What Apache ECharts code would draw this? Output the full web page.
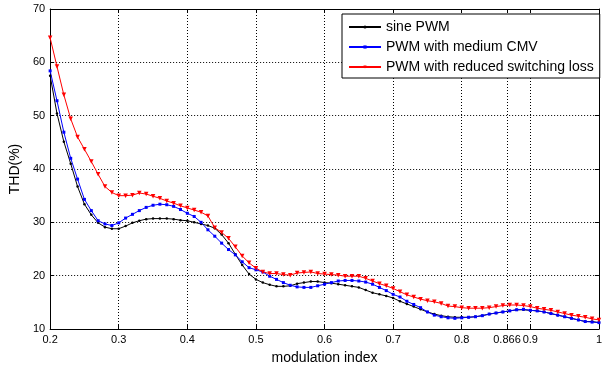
<!DOCTYPE html>
<html>
<head>
<meta charset="utf-8">
<script src="https://cdn.jsdelivr.net/npm/echarts@6/dist/echarts.min.js"></script>
<style>
html,body{margin:0;padding:0;background:#fff;}
#chart{width:605px;height:370px;}
</style>
</head>
<body>
<div id="chart"></div>
<script>
var modIndex = [0.20,0.21,0.22,0.23,0.24,0.25,0.26,0.27,0.28,0.29,
  0.30,0.31,0.32,0.33,0.34,0.35,0.36,0.37,0.38,0.39,
  0.40,0.41,0.42,0.43,0.44,0.45,0.46,0.47,0.48,0.49,
  0.50,0.51,0.52,0.53,0.54,0.55,0.56,0.57,0.58,0.59,
  0.60,0.61,0.62,0.63,0.64,0.65,0.66,0.67,0.68,0.69,
  0.70,0.71,0.72,0.73,0.74,0.75,0.76,0.77,0.78,0.79,
  0.80,0.81,0.82,0.83,0.84,0.85,0.86,0.87,0.88,0.89,
  0.90,0.91,0.92,0.93,0.94,0.95,0.96,0.97,0.98,0.99,1.00];

var sinePWM = [57.5,50.4,45.1,41.0,36.7,33.4,31.4,29.9,29.1,28.8,
  28.8,29.3,29.9,30.3,30.6,30.7,30.7,30.7,30.6,30.4,
  30.3,30.0,29.7,29.4,28.9,27.7,26.1,24.0,22.0,20.3,
  19.3,18.7,18.3,18.0,18.0,18.1,18.5,18.7,18.9,18.9,
  18.7,18.6,18.4,18.2,18.0,17.8,17.3,16.8,16.5,16.2,
  15.8,15.2,14.7,14.2,13.7,13.2,12.8,12.5,12.3,12.2,
  12.2,12.2,12.3,12.5,12.8,13.0,13.2,13.4,13.6,13.6,
  13.5,13.4,13.2,12.9,12.6,12.3,12.0,11.7,11.4,11.4,11.2];

var mediumCMV = [58.4,52.8,46.9,42.0,38.1,34.3,32.2,30.3,29.7,29.4,
  29.9,30.8,31.5,32.2,32.8,33.2,33.4,33.3,33.0,32.4,
  31.7,31.1,30.0,28.6,27.4,26.1,24.9,23.9,22.6,21.5,
  21.1,20.7,19.9,19.3,18.7,18.2,17.9,17.8,17.8,18.1,
  18.4,18.7,19.0,19.1,19.1,19.0,18.8,18.4,17.8,17.2,
  16.5,16.0,15.2,14.6,14.0,13.2,12.6,12.3,12.1,12.0,
  12.1,12.2,12.3,12.5,12.8,13.0,13.2,13.4,13.6,13.7,
  13.5,13.4,13.2,12.9,12.6,12.3,12.0,11.7,11.4,11.3,11.2];

var reducedLoss = [64.6,59.2,53.9,49.4,46.0,43.7,41.4,39.0,36.7,35.6,
  35.0,35.0,35.1,35.5,35.3,34.9,34.5,34.0,33.6,33.1,
  32.7,32.3,31.9,31.2,29.0,28.1,27.0,25.4,23.7,22.4,
  21.4,20.7,20.4,20.4,20.2,20.1,20.5,20.6,20.7,20.4,
  20.3,20.2,20.1,19.9,19.9,19.9,19.5,19.0,18.5,18.1,
  17.6,17.0,16.4,16.0,15.6,15.3,15.1,14.8,14.3,14.2,
  14.0,13.9,13.9,13.9,14.0,14.2,14.4,14.5,14.5,14.4,
  14.2,13.9,13.7,13.5,13.2,12.9,12.6,12.4,12.2,11.9,11.7];

var xTicks = [0.2,0.3,0.4,0.5,0.6,0.7,0.8,0.866,0.9,1];
var seriesNames = ['sine PWM','PWM with medium CMV','PWM with reduced switching loss'];

function pairs(ys){ return modIndex.map(function(x,i){ return [x, ys[i]]; }); }

var FONT = 'Liberation Sans, Arial, sans-serif';
var gridLine = {show:true, lineStyle:{color:'#000', width:1, type:[1,2]}};
var chart = echarts.init(document.getElementById('chart'), null, {renderer:'canvas'});
chart.setOption({
  animation:false,
  backgroundColor:'#fff',
  grid:{left:42, right:2, top:9, bottom:38, containLabel:false},
  legend:{
    orient:'vertical', left:342, top:14,
    padding:[5,6,3,6], itemGap:4, itemWidth:32, itemHeight:4,
    backgroundColor:'#fff', borderColor:'#000', borderWidth:1, borderRadius:0,
    textStyle:{fontFamily:FONT, fontSize:14, color:'#000', lineHeight:16},
    data:seriesNames
  },
  xAxis:[{
    type:'value', min:0.2, max:1, position:'bottom',
    name:'modulation index', nameLocation:'middle', nameGap:22,
    nameTextStyle:{fontFamily:FONT, fontSize:14, color:'#000'},
    axisLine:{show:true, onZero:false, lineStyle:{color:'#000', width:1}},
    axisTick:{show:true, inside:true, length:4, customValues:xTicks, lineStyle:{color:'#000'}},
    axisLabel:{show:true, margin:5, customValues:xTicks, fontFamily:FONT, fontSize:11, color:'#000'},
    splitLine:gridLine
  },{
    type:'value', min:0.2, max:1, position:'top',
    axisLine:{show:true, onZero:false, lineStyle:{color:'#000', width:1}},
    axisTick:{show:true, inside:true, length:4, customValues:xTicks, lineStyle:{color:'#000'}},
    axisLabel:{show:false},
    splitLine:{show:false}
  }],
  yAxis:[{
    type:'value', min:10, max:70, interval:10, position:'left',
    name:'THD(%)', nameLocation:'middle', nameGap:27,
    nameTextStyle:{fontFamily:FONT, fontSize:14, color:'#000'},
    axisLine:{show:true, onZero:false, lineStyle:{color:'#000', width:1}},
    axisTick:{show:true, inside:true, length:4, lineStyle:{color:'#000'}},
    axisLabel:{show:true, margin:5, fontFamily:FONT, fontSize:11, color:'#000'},
    splitLine:gridLine
  },{
    type:'value', min:10, max:70, interval:10, position:'right',
    axisLine:{show:true, onZero:false, lineStyle:{color:'#000', width:1}},
    axisTick:{show:true, inside:true, length:4, lineStyle:{color:'#000'}},
    axisLabel:{show:false},
    splitLine:{show:false}
  }],
  series:[{
    name:seriesNames[0], type:'line', data:pairs(sinePWM),
    symbol:'circle', symbolSize:2.5,
    lineStyle:{color:'#000', width:1}, itemStyle:{color:'#000'}
  },{
    name:seriesNames[1], type:'line', data:pairs(mediumCMV),
    symbol:'rect', symbolSize:3,
    lineStyle:{color:'#0000ff', width:1}, itemStyle:{color:'#0000ff'}
  },{
    name:seriesNames[2], type:'line', data:pairs(reducedLoss),
    symbol:'triangle', symbolRotate:180, symbolSize:4.5,
    lineStyle:{color:'#ff0000', width:1}, itemStyle:{color:'#ff0000'}
  }]
});
</script>
</body>
</html>
